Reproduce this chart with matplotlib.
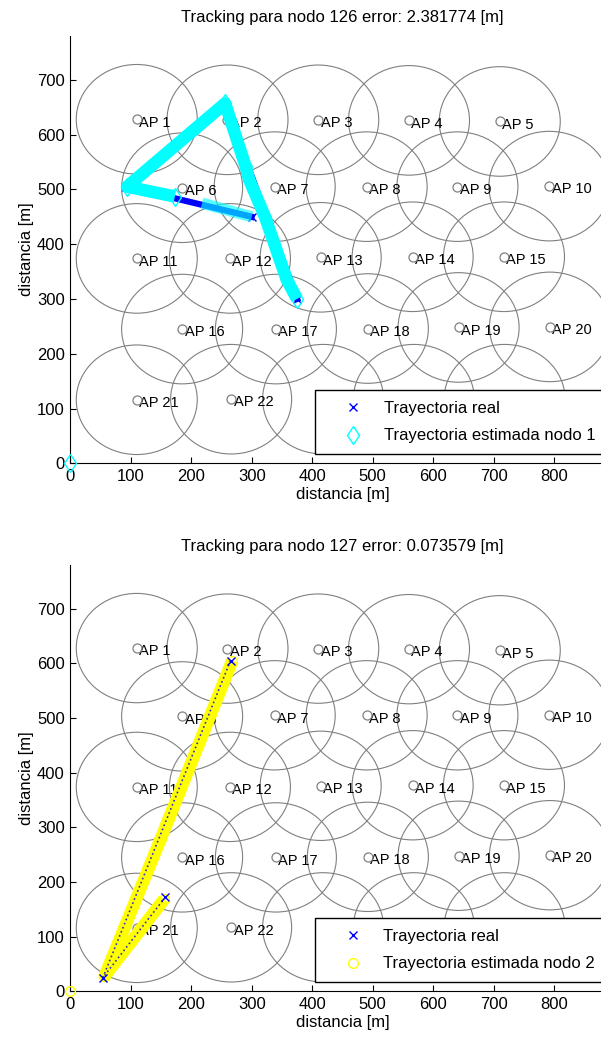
import matplotlib
matplotlib.use('Agg')
import matplotlib.pyplot as plt
from matplotlib.patches import Circle
import numpy as np

plt.rcParams['font.family'] = ['Liberation Sans', 'DejaVu Sans']

# posiciones de los AP [m]
ap_x = [110, 260, 410, 560, 710,
        185, 338, 490, 640, 792,
        110, 264, 414, 566, 717,
        185, 340, 492, 642, 793,
        110, 266, 418, 568, 718]
ap_y = [628, 627, 627, 626, 624,
        503, 505, 505, 505, 506,
        374, 374, 376, 377, 377,
        245, 245, 246, 248, 249,
        116, 117, 117, 117, 117]
# AP 23..25 quedan tapados por la leyenda
ap_names = ['AP %d' % (i + 1) for i in range(22)]
ap_radio = 100

# nodo 126
real1_x = [375, 256, 93, 300]
real1_y = [300, 655, 505, 450]
est1_x = [0, np.nan, 375, 358, 322, 296, 290, 256, 94, 173]
est1_y = [0, np.nan, 300, 335, 450, 517, 542, 657, 505, 487]
est1_cola_x = [218, 300]
est1_cola_y = [475, 450]
error1 = 2.381774

# nodo 127
real2_x = [265, 54, 157]
real2_y = [605, 25, 172]
est2_x = [0, np.nan, 268, 150, 57, 155]
est2_y = [0, np.nan, 605, 280, 28, 168]
error2 = 0.073579

W, H = 601, 1039
fig = plt.figure(figsize=(W / 100, H / 100), dpi=100)

ax_left = 70.2
ax_w = 544.5


def panel(top, bottom, nodo, err, rx, ry, ex, ey, color, marker, msize, nnum,
          cola=None, real_on_top=False):
    ax = fig.add_axes([ax_left / W, (H - bottom) / H, ax_w / W, (bottom - top) / H])
    for x, y in zip(ap_x, ap_y):
        ax.add_patch(Circle((x, y), ap_radio, fill=False, ec='#808080', lw=0.8, zorder=1))
    for x, y, name in zip(ap_x, ap_y, ap_names):
        ax.text(x + 4, y - 6, name, fontsize=10.5, va='center', ha='left', zorder=2)
    ax.plot(ap_x, ap_y, 'o', mfc='none', mec='#808080', ms=6.5, mew=0.9, zorder=2)

    if real_on_top:
        ax.plot(rx, ry, ':', color='#3030c0', lw=1.2, zorder=6)
        zr = 6
    else:
        ax.plot(rx, ry, '-', color='blue', lw=4.5, zorder=3)
        zr = 3
    h_real, = ax.plot(rx, ry, 'x', color='blue', ms=6, mew=1.0, zorder=zr,
                      label='Trayectoria real')

    ax.plot(ex, ey, '-', color=color, lw=9, solid_joinstyle='round',
            solid_capstyle='butt', zorder=4)
    if cola is not None:
        ax.plot(cola[0], cola[1], '-', color=color, lw=8, alpha=0.65,
                solid_capstyle='butt', zorder=4)
    h_est, = ax.plot(ex, ey, marker, ls='none', mfc='none', mec=color, ms=msize,
                     mew=1.0, zorder=5, clip_on=False,
                     label='Trayectoria estimada nodo %d' % nnum)

    ax.set_xlim(0, 900)
    ax.set_ylim(0, 780)
    ax.set_xticks(range(0, 900, 100))
    ax.set_yticks(range(0, 800, 100))
    ax.tick_params(direction='in', length=4, width=0.8, labelsize=12, pad=4)
    for s in ['top', 'right']:
        ax.spines[s].set_visible(False)
    for s in ['left', 'bottom']:
        ax.spines[s].set_linewidth(0.8)
    ax.set_xlabel('distancia [m]', fontsize=12, labelpad=2)
    ax.set_ylabel('distancia [m]', fontsize=12, labelpad=2)
    ax.set_title('Tracking para nodo %d error: %.6f [m]' % (nodo, err), fontsize=12, pad=10)

    leg = ax.legend(handles=[h_real, h_est], loc='lower right',
                    bbox_to_anchor=((606 - ax_left) / ax_w, 9 / (bottom - top)),
                    borderaxespad=0, fontsize=12, borderpad=0.65, handlelength=3.2,
                    handletextpad=0.25, labelspacing=0.75, fancybox=False,
                    edgecolor='black', framealpha=1)
    leg.get_frame().set_linewidth(1.0)
    leg.set_zorder(10)
    return ax


panel(36, 463.3, 126, error1, real1_x, real1_y, est1_x, est1_y, 'cyan', 'd', 9.5, 1,
      cola=(est1_cola_x, est1_cola_y))
panel(565, 991.3, 127, error2, real2_x, real2_y, est2_x, est2_y, 'yellow', 'o', 7, 2,
      real_on_top=True)

fig.savefig('out.png', dpi=100)
